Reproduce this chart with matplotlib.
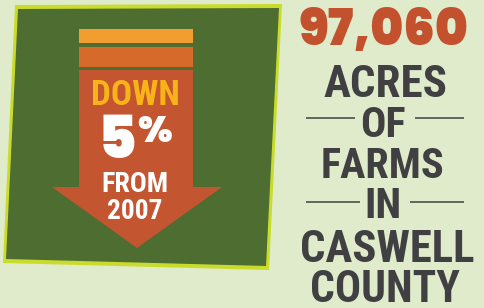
import os
import matplotlib
matplotlib.use('Agg')
import matplotlib.pyplot as plt
from matplotlib import font_manager as fm
from matplotlib.font_manager import FontProperties
from matplotlib.textpath import TextPath

# ---- data ----
total_acres = 97060
pct_change = 5
base_year = 2007
direction_label = "DOWN"
headline_lines = ["ACRES", "OF", "FARMS", "IN", "CASWELL", "COUNTY"]

# ---- colours ----
BG = "#dfebca"
BORDER = "#c9dc2c"
GREEN = "#4e6d31"
BAR1 = "#f29d30"
BAR2 = "#d66a2a"
ARROW = "#c35531"
DOWN_C = "#f7b317"
RED = "#c4512e"
DARK = "#404042"

DPI = 100
fig = plt.figure(figsize=(4.84, 3.08), dpi=DPI)
fig.patch.set_facecolor(BG)
ax = fig.add_axes([0, 0, 1, 1])
ax.set_xlim(0, 484)
ax.set_ylim(308, 0)
ax.axis('off')

files = {os.path.basename(f.fname): f.fname for f in fm.fontManager.ttflist}


def pick(cands, fallback):
    for c in cands:
        if c in files:
            return dict(fname=files[c])
    return fallback


narrow = pick(['RobotoCondensed-Bold.ttf', 'BarlowCondensed-SemiBold.ttf',
               'PT_Sans-Narrow-Web-Bold.ttf', 'FjallaOne-Regular.ttf',
               'LiberationSansNarrow-Bold.ttf', 'DejaVuSansCondensed-Bold.ttf'],
              dict(family='DejaVu Sans', weight='bold'))
heavy = pick(['Poppins-Black.ttf', 'MontserratAlternates-Black.ttf',
              'Lato-Black.ttf', 'Roboto-Black.ttf'],
             dict(family='DejaVu Sans', weight='bold'))


def fit_text(s, box, color, props, ref=None, mode='height'):
    x0, x1, y0, y1 = box
    fp = FontProperties(**props)
    e = TextPath((0, 0), s, size=100, prop=fp).get_extents()
    er = TextPath((0, 0), ref if ref else s, size=100, prop=fp).get_extents()
    sh = (y1 - y0) / (er.y1 - er.y0)
    sw = (x1 - x0) / e.width
    if mode == 'height':
        sc = sh
    elif mode == 'width':
        sc = sw
    else:
        sc = min(sh, sw * 1.04)
    size = sc * 100 * 72 / DPI
    cx = (x0 + x1) / 2
    xl = cx - (e.x0 + e.width / 2) * sc
    yb = y1 + er.y0 * sc
    fp2 = FontProperties(**props)
    fp2.set_size(size)
    ax.text(xl, yb, s, fontproperties=fp2, color=color, ha='left', va='baseline')


# ---- green square with yellow-green border ----
ax.fill([15, 282, 269, 3], [5, 4, 270, 263], color=BORDER, lw=0)
ax.fill([18, 279, 266, 6], [9, 8, 266, 259], color=GREEN, lw=0)

# ---- arrow ----
ax.fill([79, 193, 193, 79], [29, 29, 43, 43], color=BAR1, lw=0)
ax.fill([79, 193, 193, 79], [47, 47, 67, 67], color=BAR2, lw=0)
ax.fill([79, 193, 193, 222, 137, 52, 79], [70, 70, 187, 187, 248, 187, 187],
        color=ARROW, lw=0)

fit_text(direction_label, (93, 178, 80, 105), DOWN_C, narrow, ref='H', mode='fit')
fit_text(str(pct_change), (102, 135, 115, 158), 'white', heavy, ref='5', mode='fit')
fit_text('%', (138, 172, 115, 142), 'white', heavy, ref='%', mode='fit')
fit_text('FROM', (103, 167, 172, 192), 'white', narrow, ref='H', mode='fit')
fit_text(str(base_year), (106, 164, 199, 219), 'white', narrow, ref='0', mode='fit')

# ---- right column ----
fit_text(f"{total_acres:,}", (295, 472, 8, 45), RED, heavy, ref='0', mode='fit')
boxes = [(325, 445, 65, 97), (360, 407, 107, 137), (319, 446, 148, 178),
         (367, 400, 188, 218), (305, 470, 230, 262), (315, 457, 270, 302)]
for word, b in zip(headline_lines, boxes):
    fit_text(word, b, DARK, narrow, ref='H', mode='fit')

for y, segs in [(118, [(306, 355), (415, 464)]), (202, [(306, 360), (410, 464)])]:
    for a, b in segs:
        ax.plot([a, b], [y, y], color=DARK, lw=1.1, solid_capstyle='butt')

fig.savefig('out.png', dpi=DPI, facecolor=BG)
